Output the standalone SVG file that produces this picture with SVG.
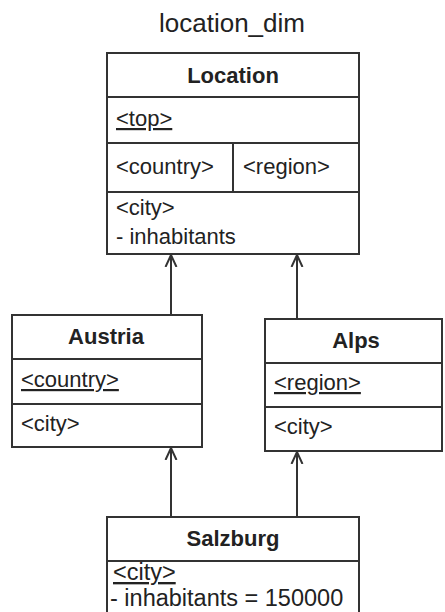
<svg xmlns="http://www.w3.org/2000/svg" width="445" height="612" viewBox="0 0 445 612">
  <style>
    .box { fill: #ffffff; stroke: #333333; stroke-width: 2; }
    .sep { stroke: #333333; stroke-width: 2; fill: none; }
    .title { font-family: "Liberation Sans", Arial, sans-serif; font-size: 26px; fill: #222222; text-anchor: middle; }
    .head { font-family: "Liberation Sans", Arial, sans-serif; font-size: 22px; font-weight: bold; fill: #222222; text-anchor: middle; }
    .attr { font-family: "Liberation Sans", Arial, sans-serif; font-size: 22px; fill: #222222; }
    .attr-lg { font-size: 23.5px; }
    .key { text-decoration: underline; }
    .link { stroke: #333333; stroke-width: 2; fill: none; marker-end: url(#open-arrow); }
  </style>
  <defs>
    <marker id="open-arrow" markerUnits="userSpaceOnUse" markerWidth="14" markerHeight="14" viewBox="0 0 14 14" refX="12" refY="7" orient="auto">
      <path d="M0,1.5 L12,7 L0,12.5" fill="none" stroke="#333333" stroke-width="2"/>
    </marker>
  </defs>

  <rect width="445" height="612" fill="#ffffff"/>

  <text class="title" x="232" y="32">location_dim</text>

  <!-- Location -->
  <g id="location">
    <rect class="box" x="107" y="53" width="252" height="201"/>
    <line class="sep" x1="107" y1="97" x2="359" y2="97"/>
    <line class="sep" x1="107" y1="143" x2="359" y2="143"/>
    <line class="sep" x1="107" y1="192" x2="359" y2="192"/>
    <line class="sep" x1="233" y1="143" x2="233" y2="192"/>
    <text class="head" x="233" y="83">Location</text>
    <text class="attr key" x="116" y="126">&lt;top&gt;</text>
    <text class="attr" x="116" y="174">&lt;country&gt;</text>
    <text class="attr" x="243" y="174">&lt;region&gt;</text>
    <text class="attr" x="116" y="215">&lt;city&gt;</text>
    <text class="attr" x="116" y="244">- inhabitants</text>
  </g>

  <!-- Austria -->
  <g id="austria">
    <rect class="box" x="12" y="315" width="190" height="132"/>
    <line class="sep" x1="12" y1="359" x2="202" y2="359"/>
    <line class="sep" x1="12" y1="404" x2="202" y2="404"/>
    <text class="head" x="106" y="344">Austria</text>
    <text class="attr key" x="21" y="387">&lt;country&gt;</text>
    <text class="attr" x="21" y="431">&lt;city&gt;</text>
  </g>

  <!-- Alps -->
  <g id="alps">
    <rect class="box" x="265" y="319" width="177" height="132"/>
    <line class="sep" x1="265" y1="363" x2="442" y2="363"/>
    <line class="sep" x1="265" y1="407" x2="442" y2="407"/>
    <text class="head" x="356" y="348">Alps</text>
    <text class="attr key" x="274" y="390">&lt;region&gt;</text>
    <text class="attr" x="274" y="434">&lt;city&gt;</text>
  </g>

  <!-- Salzburg -->
  <g id="salzburg">
    <rect class="box" x="107" y="517" width="252" height="110"/>
    <line class="sep" x1="107" y1="561" x2="359" y2="561"/>
    <text class="head" x="233" y="546">Salzburg</text>
    <text class="attr attr-lg key" x="113" y="580">&lt;city&gt;</text>
    <text class="attr attr-lg" x="110" y="606">- inhabitants = 150000</text>
  </g>

  <!-- generalisation links -->
  <g id="connectors">
    <line class="link" x1="171" y1="315" x2="171" y2="255"/>
    <line class="link" x1="297" y1="319" x2="297" y2="255"/>
    <line class="link" x1="171" y1="517" x2="171" y2="448"/>
    <line class="link" x1="297" y1="517" x2="297" y2="452"/>
  </g>
</svg>
